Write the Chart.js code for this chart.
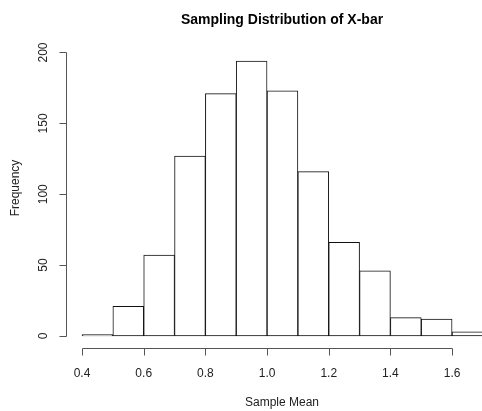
<!DOCTYPE html>
<html>
<head>
<meta charset="utf-8">
<script src="https://cdn.jsdelivr.net/npm/chart.js@4.4.1/dist/chart.umd.min.js"></script>
<style>
  html, body { margin: 0; padding: 0; background: #fff; overflow: hidden; }
  #wrap { width: 482px; height: 411px; }
</style>
</head>
<body>
<div id="wrap"><canvas id="c" width="482" height="411"></canvas></div>
<script>
// Histogram bins (left edges), width 0.1
const binStarts = [0.4, 0.5, 0.6, 0.7, 0.8, 0.9, 1.0, 1.1, 1.2, 1.3, 1.4, 1.5, 1.6];
const frequencies = [1, 21, 57, 127, 171, 194, 173, 116, 66, 46, 13, 12, 3];
const binWidth = 0.1;
const xTicks = [0.4, 0.6, 0.8, 1.0, 1.2, 1.4, 1.6];
const yTicks = [0, 50, 100, 150, 200];
const titleText = 'Sampling Distribution of X-bar';
const xLabel = 'Sample Mean';
const yLabel = 'Frequency';

const points = binStarts.map((s, i) => ({ x: s + binWidth / 2, y: frequencies[i] }));

const FONT = '"Liberation Sans", Arial, sans-serif';
const TEXT = '#222';
const AXIS = '#555';

const rAxes = {
  id: 'rAxes',
  afterDraw(chart) {
    const ctx = chart.ctx;
    const xs = chart.scales.x, ys = chart.scales.y;
    const area = chart.chartArea;
    ctx.save();
    ctx.strokeStyle = AXIS;
    ctx.lineWidth = 1;
    // x axis
    const xAxisY = Math.round(area.bottom) + 1.5;
    const x0 = xs.getPixelForValue(xTicks[0]), x1 = xs.getPixelForValue(xTicks[xTicks.length - 1]);
    ctx.beginPath();
    ctx.moveTo(Math.round(x0) + 0.5, xAxisY);
    ctx.lineTo(Math.round(x1) + 0.5, xAxisY);
    xTicks.forEach(v => {
      const px = Math.round(xs.getPixelForValue(v)) + 0.5;
      ctx.moveTo(px, xAxisY);
      ctx.lineTo(px, xAxisY + 7);
    });
    ctx.stroke();
    // y axis
    const yAxisX = Math.round(area.left) + 0.5;
    const y0 = ys.getPixelForValue(yTicks[0]), y1 = ys.getPixelForValue(yTicks[yTicks.length - 1]);
    ctx.beginPath();
    ctx.moveTo(yAxisX, Math.round(y0) + 0.5);
    ctx.lineTo(yAxisX, Math.round(y1) + 0.5);
    yTicks.forEach(v => {
      const py = Math.round(ys.getPixelForValue(v)) + 0.5;
      ctx.moveTo(yAxisX, py);
      ctx.lineTo(yAxisX - 7, py);
    });
    ctx.stroke();

    // tick labels
    ctx.fillStyle = TEXT;
    ctx.font = '12px ' + FONT;
    ctx.textAlign = 'center';
    ctx.textBaseline = 'middle';
    xTicks.forEach(v => {
      ctx.fillText(v.toFixed(1), xs.getPixelForValue(v), xAxisY + 25);
    });
    yTicks.forEach(v => {
      ctx.save();
      ctx.translate(yAxisX - 23, ys.getPixelForValue(v));
      ctx.rotate(-Math.PI / 2);
      ctx.fillText(String(v), 0, 0);
      ctx.restore();
    });
    // axis titles
    ctx.fillText(xLabel, 282, 403);
    ctx.save();
    ctx.translate(16, 188);
    ctx.rotate(-Math.PI / 2);
    ctx.fillText(yLabel, 0, 0);
    ctx.restore();
    // main title
    ctx.font = 'bold 14px ' + FONT;
    ctx.fillStyle = '#000';
    ctx.fillText(titleText, 282, 20);
    ctx.restore();
  }
};

new Chart(document.getElementById('c'), {
  type: 'bar',
  data: {
    datasets: [{
      data: points,
      backgroundColor: '#ffffff',
      borderColor: '#111',
      borderWidth: 1,
      borderSkipped: false,
      barPercentage: 1.0,
      categoryPercentage: 1.0
    }]
  },
  options: {
    responsive: false,
    animation: false,
    devicePixelRatio: 1,
    layout: { padding: { left: 66, right: 0, top: 50, bottom: 64 } },
    plugins: { legend: { display: false }, tooltip: { enabled: false }, title: { display: false } },
    scales: {
      x: { type: 'linear', offset: false, min: 0.348, max: 1.697, display: false },
      y: { type: 'linear', min: -7.76, max: 201.76, display: false }
    }
  },
  plugins: [rAxes]
});
</script>
</body>
</html>
